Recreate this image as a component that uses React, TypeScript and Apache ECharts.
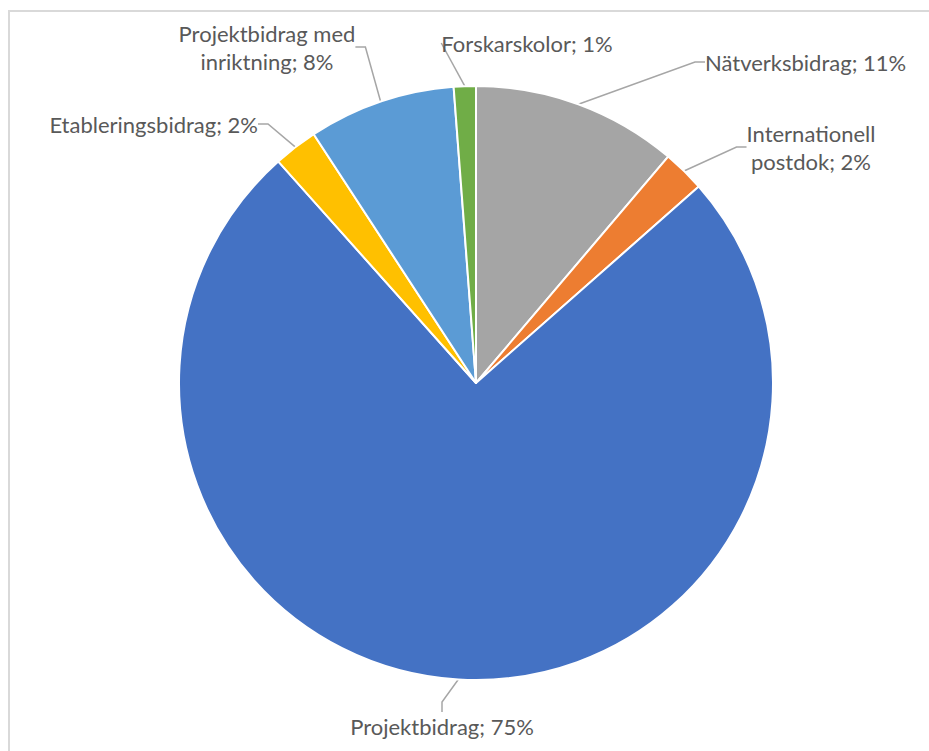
import React, { useEffect, useRef } from "react";
import * as echarts from "echarts";

const categories = [
  "Nätverksbidrag",
  "Internationell\npostdok",
  "Projektbidrag",
  "Etableringsbidrag",
  "Projektbidrag med\ninriktning",
  "Forskarskolor",
];
const values = [11.2, 2.3, 74.9, 2.4, 8.0, 1.2];
const colors = ["#A5A5A5", "#ED7D31", "#4472C4", "#FFC000", "#5B9BD5", "#70AD47"];
// label anchor positions [x, y, align]
const labelAnchors: [number, number, string][] = [
  [705, 62, "left"],
  [811, 147, "center"],
  [442, 726, "center"],
  [258, 124, "right"],
  [267, 47, "center"],
  [527, 43, "center"],
];

export default function App() {
  const ref = useRef<HTMLDivElement>(null);
  useEffect(() => {
    if (!ref.current) return;
    const chart = echarts.init(ref.current, undefined, { renderer: "svg" });
    chart.setOption({
      animation: false,
      backgroundColor: "#ffffff",
      graphic: [
        {
          type: "rect",
          shape: { x: 9, y: 11, width: 1000, height: 1000 },
          style: { fill: "none", stroke: "#D9D9D9", lineWidth: 2 },
          silent: true,
        },
      ],
      series: [
        {
          type: "pie",
          center: [476, 383],
          radius: [0, 297],
          startAngle: 90,
          clockwise: true,
          avoidLabelOverlap: false,
          data: categories.map((c, i) => ({
            name: c,
            value: values[i],
            itemStyle: { color: colors[i] },
          })),
          itemStyle: { borderColor: "#ffffff", borderWidth: 2 },
          label: {
            show: true,
            position: "outside",
            fontFamily: "Lato, 'Open Sans', sans-serif",
            fontSize: 22,
            lineHeight: 28,
            color: "#595959",
            formatter: (p: any) => `${p.name}; ${Math.round(p.percent)}%`,
          },
          labelLine: {
            show: true,
            length: 20,
            length2: 10,
            lineStyle: { color: "#A6A6A6", width: 1.5 },
          },
          labelLayout: (params: any) => {
            const a = labelAnchors[params.dataIndex];
            return {
              x: a[0],
              y: a[1],
              align: a[2],
              verticalAlign: "middle",
              hideOverlap: false,
            };
          },
        },
      ],
    });
    return () => chart.dispose();
  }, []);
  return (
    <div
      ref={ref}
      style={{ position: "absolute", left: 0, top: 0, width: 929, height: 751 }}
    />
  );
}
